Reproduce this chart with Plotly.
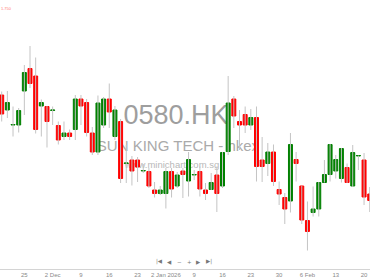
import plotly.graph_objects as go

dates = ["2025-11-19","2025-11-20","2025-11-21","2025-11-24","2025-11-25","2025-11-26","2025-11-27","2025-11-28",
         "2025-12-01","2025-12-02","2025-12-03","2025-12-04","2025-12-05","2025-12-08","2025-12-09","2025-12-10",
         "2025-12-11","2025-12-12","2025-12-15","2025-12-16","2025-12-17","2025-12-18","2025-12-19","2025-12-22",
         "2025-12-23","2025-12-24","2025-12-29","2025-12-30","2025-12-31","2026-01-02","2026-01-05","2026-01-06",
         "2026-01-07","2026-01-08","2026-01-09","2026-01-12","2026-01-13","2026-01-14","2026-01-15","2026-01-16",
         "2026-01-19","2026-01-20","2026-01-21","2026-01-22","2026-01-23","2026-01-26","2026-01-27","2026-01-28",
         "2026-01-29","2026-01-30","2026-02-02","2026-02-03","2026-02-04","2026-02-05","2026-02-06","2026-02-09",
         "2026-02-10","2026-02-11","2026-02-12","2026-02-13","2026-02-16","2026-02-17","2026-02-18","2026-02-19",
         "2026-02-20","2026-02-23"]

opens = [1.570,1.540,1.510,1.510,1.578,1.623,1.608,1.548,1.547,1.539,1.509,1.487,1.494,1.501,1.562,1.555,
         1.494,1.456,1.510,1.562,1.487,1.517,1.433,1.440,1.440,1.418,1.417,1.380,1.373,1.373,1.417,1.388,
         1.418,1.398,1.410,1.417,1.380,1.381,1.410,1.388,1.457,1.562,1.517,1.531,1.510,1.525,1.440,1.433,
         1.456,1.381,1.365,1.358,1.441,1.388,1.319,1.335,1.342,1.395,1.411,1.418,1.403,1.425,1.388,1.448,
         1.440,1.372]
highs = [1.577,1.578,1.547,1.544,1.630,1.668,1.645,1.561,1.548,1.547,1.517,1.517,1.501,1.570,1.570,1.562,
         1.506,1.569,1.566,1.593,1.548,1.522,1.470,1.448,1.446,1.432,1.424,1.396,1.388,1.424,1.424,1.416,
         1.424,1.456,1.420,1.427,1.394,1.414,1.427,1.456,1.608,1.568,1.540,1.547,1.542,1.547,1.486,1.474,
         1.471,1.397,1.374,1.494,1.456,1.388,1.357,1.387,1.396,1.440,1.472,1.450,1.464,1.433,1.470,1.449,
         1.454,1.386]
lows = [1.517,1.524,1.487,1.495,1.530,1.584,1.493,1.487,1.465,1.510,1.471,1.480,1.480,1.480,1.510,1.487,
        1.450,1.450,1.504,1.504,1.480,1.394,1.394,1.389,1.396,1.414,1.384,1.365,1.370,1.343,1.365,1.384,
        1.364,1.367,1.400,1.367,1.360,1.380,1.336,1.384,1.450,1.504,1.460,1.494,1.500,1.397,1.396,1.408,
        1.388,1.350,1.312,1.335,1.397,1.312,1.259,1.327,1.327,1.395,1.397,1.403,1.395,1.394,1.386,1.420,
        1.350,1.336]
closes = [1.532,1.555,1.511,1.539,1.615,1.593,1.501,1.555,1.517,1.540,1.480,1.494,1.487,1.562,1.548,1.495,
          1.456,1.554,1.562,1.536,1.540,1.403,1.434,1.418,1.426,1.419,1.388,1.373,1.380,1.417,1.382,1.410,
          1.411,1.441,1.411,1.382,1.373,1.395,1.373,1.455,1.554,1.528,1.510,1.510,1.525,1.427,1.427,1.456,
          1.397,1.372,1.342,1.471,1.433,1.320,1.297,1.342,1.395,1.411,1.471,1.441,1.463,1.395,1.455,1.449,
          1.366,1.359]

tick_dates = ["2025-11-25","2025-12-02","2025-12-09","2025-12-16","2025-12-23","2026-01-02","2026-01-09",
              "2026-01-16","2026-01-23","2026-01-30","2026-02-06","2026-02-13","2026-02-20"]
tick_labels = ["25","2 Dec","9","16","23","2 Jan 2026","9","16","23","30","6 Feb","13","20"]

ticker = "0580.HK"
company = "SUN KING TECH - hkex"
site = "www.minichart.com.sg"
price_label = "1.750"

UP = "#008000"
DOWN = "#ff0000"
WICK = "#c4c4c4"

n = len(dates)
assert all(len(a) == n for a in (opens, highs, lows, closes))

W, H_PLOT = 370, 269

fig = go.Figure()

# watermark text, drawn on the base (underneath) subplot
fig.add_trace(go.Scatter(
    x=[176, 178, 172], y=[117, 147.5, 165.5],
    text=[ticker, company, site], mode="text",
    textfont=dict(family="Liberation Sans, Arial, sans-serif",
                  size=[27, 15, 9.5], color=["#9e9e9e", "#aaaaaa", "#b8b8b8"]),
    xaxis="x", yaxis="y", hoverinfo="skip", showlegend=False))

# wicks
wx, wy = [], []
for d, h, l in zip(dates, highs, lows):
    wx += [d, d, None]
    wy += [l, h, None]
fig.add_trace(go.Scatter(x=wx, y=wy, mode="lines", line=dict(color=WICK, width=1),
                         xaxis="x2", yaxis="y2", hoverinfo="skip", showlegend=False,
                         connectgaps=False))

# bodies
body_hi = [max(o, c) for o, c in zip(opens, closes)]
body_lo = [min(o, c) for o, c in zip(opens, closes)]
fig.add_trace(go.Candlestick(
    x=dates, open=opens, high=body_hi, low=body_lo, close=closes,
    increasing=dict(line=dict(color=UP, width=1), fillcolor=UP),
    decreasing=dict(line=dict(color=DOWN, width=1), fillcolor=DOWN),
    xaxis="x2", yaxis="y2", showlegend=False))

# map: price p at pixel y = (1.76 - p)/0.002
ytop, ybot = 1.76, 1.76 - 0.002 * H_PLOT

fig.update_layout(
    width=W, height=278,
    margin=dict(l=0, r=0, t=0, b=278 - H_PLOT),
    paper_bgcolor="white", plot_bgcolor="white",
    showlegend=False,
    xaxis=dict(range=[0, W], visible=False, fixedrange=True),
    yaxis=dict(range=[H_PLOT, 0], visible=False, fixedrange=True),
    xaxis2=dict(type="category", overlaying="x", anchor="y2",
                range=[-0.3, n - 1 + 0.05],
                tickmode="array", tickvals=tick_dates, ticktext=tick_labels,
                tickfont=dict(family="Liberation Sans, Arial, sans-serif", size=6, color="#888"),
                showline=True, linecolor="#d4d4d4", linewidth=1,
                showgrid=False, zeroline=False, ticks="", tickangle=0,
                rangeslider=dict(visible=False)),
    yaxis2=dict(overlaying="y", anchor="x2", range=[ybot, ytop], visible=False),
    boxgap=0.3, boxgroupgap=0,
)

# navigation controls & price label
nav = [("|◀", 159), ("◀", 169), ("−", 179), ("+", 189), ("▶", 199), ("▶|", 209)]
for txt, px in nav:
    fig.add_annotation(x=px / W, y=1 - 266.5 / H_PLOT, xref="paper", yref="paper",
                       text=txt, showarrow=False,
                       font=dict(family="DejaVu Sans, sans-serif", size=5.5, color="#777"))
fig.add_annotation(x=0, y=1 - 5 / H_PLOT, xref="paper", yref="paper", xanchor="left",
                   text=price_label, showarrow=False, borderpad=0,
                   font=dict(family="Liberation Sans, Arial, sans-serif", size=4, color="#ff7a7a"))

fig.write_html("out.html")
